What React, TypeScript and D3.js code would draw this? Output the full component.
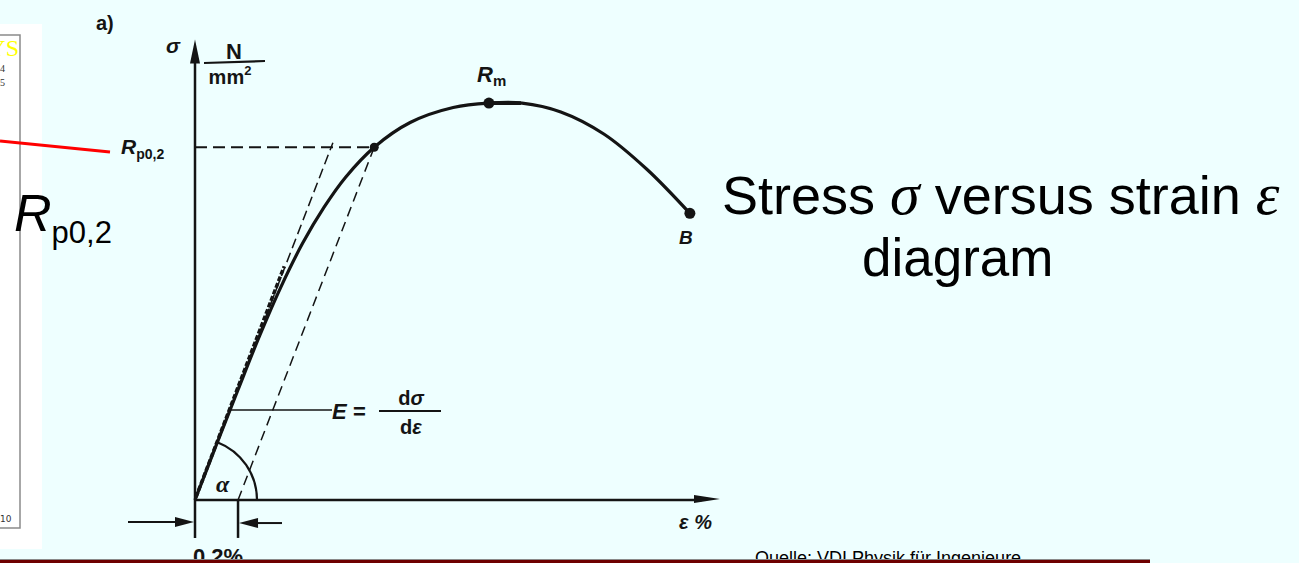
import React from 'react';
import * as d3 from 'd3';

const W = 1299;
const H = 563;

// Stress–strain curve of a ductile metal (strain in %, stress in N/mm²)
const strainPct = [0, 0.1, 0.2, 0.3, 0.4, 0.5, 0.6, 0.7, 0.833, 1.0, 1.2, 1.366, 1.52, 1.7, 1.9, 2.1, 2.3];
const stressN = [0, 63, 125, 186, 242, 291, 332, 366, 400, 428, 445, 450, 450, 440, 415, 375, 325];

// Characteristic points on the curve
const pointNames = ['Rp0,2', 'Rm', 'B'];
const pointStrain = [0.833, 1.366, 2.3];
const pointStress = [400, 450, 325];

const offsetStrain = 0.2; // 0.2 % plastic offset
const modulusSlope = 632; // dσ/dε of the elastic line, N/mm² per %
const slopeTopStress = 405;

const xMax = 2.44;
const yMax = 522;

const sans = "'Liberation Sans', Arial, sans-serif";
const serif = "'Liberation Serif', 'Times New Roman', serif";
const ink = '#141414';

export default function App() {
  const x = d3.scaleLinear().domain([0, xMax]).range([195, 720]);
  const y = d3.scaleLinear().domain([0, yMax]).range([500, 39.6]);

  const curveData = strainPct.map((s, i) => [s, stressN[i]] as [number, number]);
  const line = d3
    .line<[number, number]>()
    .x((d) => x(d[0]))
    .y((d) => y(d[1]))
    .curve(d3.curveCatmullRom.alpha(0.5));

  const x0 = x(0);
  const y0 = y(0);
  const xOff = x(offsetStrain);
  const yBelow = y(-43);
  const [rp, rm, bp] = pointNames.map((_, i) => ({ x: x(pointStrain[i]), y: y(pointStress[i]) }));

  const slopeTopStrain = slopeTopStress / modulusSlope;
  const bandTopStress = 265;
  const bandTopStrain = bandTopStress / modulusSlope;

  // angle α between the strain axis and the elastic line
  const ang = Math.atan2(y0 - y(slopeTopStress), x(slopeTopStrain) - x0);
  const r = 62;
  const arcPath = d3.path();
  arcPath.moveTo(x0 + r, y0);
  arcPath.arc(x0, y0, r, 0, -ang, true);

  // leader line for E
  const eStress = 102;
  const eX = x(eStress / modulusSlope);
  const eY = y(eStress);

  const arrowY = y(-25);

  return (
    <svg
      width={W}
      height={H}
      viewBox={`0 0 ${W} ${H}`}
      style={{ position: 'fixed', left: 0, top: 0, display: 'block' }}
    >
      <rect x={0} y={0} width={W} height={H} fill="#EEFFFF" />
      <rect x={0} y={24} width={42} height={525} fill="#FFFFFF" />
      {/* cut-off side panel */}
      <path d="M0,35 H20 V528 H0" fill="none" stroke="#8a8a8a" strokeWidth={1.5} />
      <text x={19} y={56} textAnchor="end" fontFamily={serif} fontSize={24} fill="#FFFF00">YS</text>
      <text x={0} y={72} fontFamily={serif} fontSize={10} fill="#333">4</text>
      <text x={0} y={86} fontFamily={serif} fontSize={10} fill="#333">5</text>
      <text x={0} y={522} fontFamily="'DejaVu Sans', sans-serif" fontSize={9} fill="#333">10</text>

      {/* label a) */}
      <text x={96} y={30} fontFamily={sans} fontWeight="bold" fontSize={20} fill={ink}>a)</text>

      {/* stress axis */}
      <line x1={x0} y1={yBelow} x2={x0} y2={y(yMax) + 14} stroke={ink} strokeWidth={2.5} />
      <path d={`M${x0},${y(yMax)} L${x0 - 5},${y(yMax) + 24} L${x0 + 5},${y(yMax) + 24} Z`} fill={ink} />
      {/* strain axis */}
      <line x1={x0} y1={y0} x2={x(xMax) - 18} y2={y0} stroke={ink} strokeWidth={2.5} />
      <path d={`M${x(xMax)},${y0 - 1} L${x(xMax) - 26},${y0 - 5} L${x(xMax) - 26},${y0 + 3} Z`} fill={ink} />

      {/* axis labels */}
      <text x={166} y={53} fontFamily={sans} fontStyle="italic" fontWeight="bold" fontSize={21} fill={ink}>σ</text>
      <text x={234} y={59} textAnchor="middle" fontFamily={sans} fontWeight="bold" fontSize={22} fill={ink}>N</text>
      <line x1={204} y1={63} x2={265} y2={61} stroke={ink} strokeWidth={2.2} />
      <text x={230} y={84} textAnchor="middle" fontFamily={sans} fontWeight="bold" fontSize={20} fill={ink}>
        mm<tspan dy={-9} fontSize={13}>2</tspan>
      </text>
      <text x={679} y={529} fontFamily={sans} fontStyle="italic" fontWeight="bold" fontSize={20} fill={ink}>ε %</text>

      {/* 0.2 % offset marker */}
      <line x1={xOff} y1={y0} x2={xOff} y2={yBelow} stroke={ink} strokeWidth={2.5} />
      <line x1={128} y1={arrowY} x2={x0 - 12} y2={arrowY} stroke={ink} strokeWidth={2} />
      <path d={`M${x0 - 1},${arrowY} L${x0 - 20},${arrowY - 5} L${x0 - 20},${arrowY + 5} Z`} fill={ink} />
      <line x1={282} y1={arrowY + 1} x2={xOff + 12} y2={arrowY + 1} stroke={ink} strokeWidth={2} />
      <path d={`M${xOff + 1},${arrowY + 1} L${xOff + 20},${arrowY - 4} L${xOff + 20},${arrowY + 6} Z`} fill={ink} />
      <text x={218} y={564} textAnchor="middle" fontFamily={sans} fontWeight="bold" fontSize={22} fill={ink}>0.2%</text>

      {/* elastic line through the origin and the 0.2 % offset line */}
      <line x1={x0} y1={y0} x2={x(slopeTopStrain)} y2={y(slopeTopStress)} stroke={ink} strokeWidth={1.5} strokeDasharray="10 5" />
      <line
        x1={x0 + 1}
        y1={y0 - 3}
        x2={x(bandTopStrain) - 1}
        y2={y(bandTopStress)}
        stroke={ink}
        strokeWidth={3.5}
        strokeDasharray="5 2"
      />
      <line x1={xOff} y1={y0} x2={x(offsetStrain + slopeTopStrain)} y2={y(slopeTopStress)} stroke={ink} strokeWidth={1.5} strokeDasharray="10 6" />

      {/* yield strength level */}
      <line x1={x0} y1={rp.y} x2={rp.x} y2={rp.y} stroke={ink} strokeWidth={2} strokeDasharray="12 6" />

      {/* stress–strain curve */}
      <path d={line(curveData) ?? ''} fill="none" stroke={ink} strokeWidth={3.2} strokeLinejoin="round" />
      <line x1={rm.x} y1={rm.y} x2={rm.x + 32} y2={rm.y} stroke={ink} strokeWidth={3.8} />

      {/* points */}
      <circle cx={rp.x} cy={rp.y} r={4.5} fill={ink} />
      <circle cx={rm.x} cy={rm.y} r={5.5} fill={ink} />
      <circle cx={bp.x} cy={bp.y} r={5.5} fill={ink} />

      {/* point labels */}
      <text x={121} y={154} fontFamily={sans} fontStyle="italic" fontWeight="bold" fontSize={21} fill={ink}>
        R<tspan dy={5} fontSize={14} fontStyle="normal">p0,2</tspan>
      </text>
      <text x={477} y={82} fontFamily={sans} fontStyle="italic" fontWeight="bold" fontSize={22} fill={ink}>
        R<tspan dy={4} fontSize={15} fontStyle="normal">m</tspan>
      </text>
      <text x={679} y={244} fontFamily={sans} fontStyle="italic" fontWeight="bold" fontSize={19} fill={ink}>B</text>

      {/* angle α */}
      <path d={arcPath.toString()} fill="none" stroke={ink} strokeWidth={2.2} />
      <text x={216} y={492} fontFamily={serif} fontStyle="italic" fontWeight="bold" fontSize={24} fill={ink}>α</text>

      {/* modulus of elasticity */}
      <line x1={eX} y1={eY} x2={332} y2={eY} stroke={ink} strokeWidth={1.5} />
      <text x={332} y={419} fontFamily={sans} fontStyle="italic" fontWeight="bold" fontSize={22} fill={ink}>E</text>
      <text x={353} y={419} fontFamily={sans} fontWeight="bold" fontSize={22} fill={ink}>=</text>
      <line x1={379} y1={411} x2={441} y2={411} stroke={ink} strokeWidth={2.2} />
      <text x={411} y={405} textAnchor="middle" fontFamily={sans} fontWeight="bold" fontSize={20} fill={ink}>
        d<tspan fontStyle="italic">σ</tspan>
      </text>
      <text x={411} y={434} textAnchor="middle" fontFamily={sans} fontWeight="bold" fontSize={20} fill={ink}>
        d<tspan fontStyle="italic">ε</tspan>
      </text>

      {/* red pointer to the yield strength */}
      <line x1={0} y1={141} x2={110} y2={152} stroke="#FF0000" strokeWidth={3} />
      <text x={14} y={231} fontFamily={sans} fontSize={52} fill="#000">
        <tspan fontStyle="italic">R</tspan>
        <tspan dy={12} fontSize={31}>p0,2</tspan>
      </text>

      {/* title */}
      <text x={722} y={214} fontFamily={sans} fontSize={54} fill="#000">
        Stress <tspan fontFamily={serif} fontStyle="italic" fontSize={60}>σ</tspan> versus strain <tspan fontFamily={serif} fontStyle="italic" fontSize={60}>ε</tspan>
      </text>
      <text x={862} y={276} fontFamily={sans} fontSize={53} fill="#000">diagram</text>

      {/* source */}
      <text x={755} y={564} fontFamily={sans} fontSize={18} fill="#000">Quelle: VDI Physik für Ingenieure</text>
      <line x1={0} y1={559.5} x2={1150} y2={559.5} stroke="#8a8a8a" strokeWidth={1} />
      <rect x={0} y={560} width={1150} height={3} fill="#6E0000" />
    </svg>
  );
}
